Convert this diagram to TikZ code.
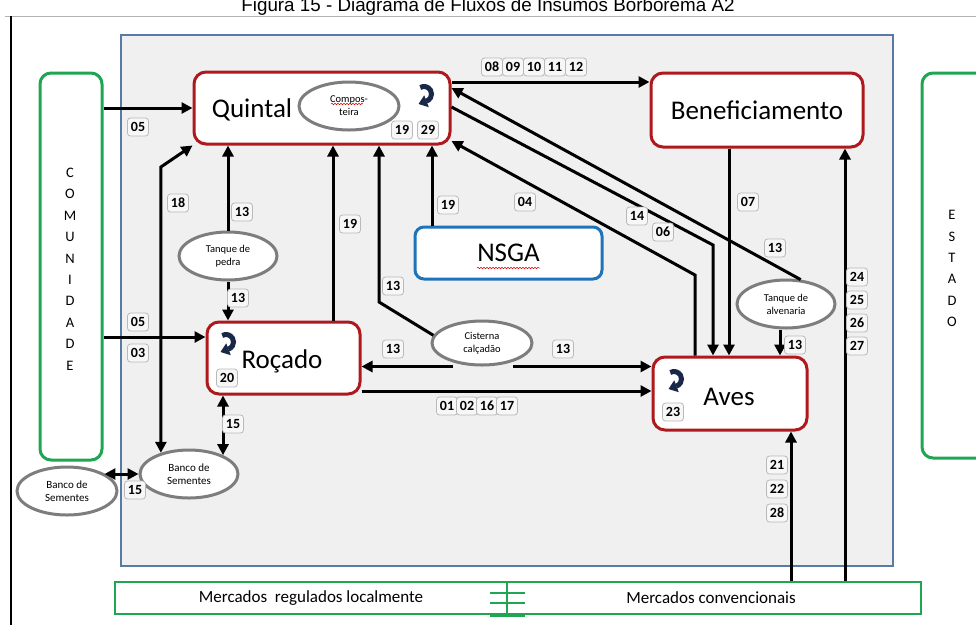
\documentclass[tikz,border=0pt]{standalone}
\usepackage{fontspec}
\setmainfont{Carlito}
\newfontfamily\titlefont{Liberation Sans}
\usetikzlibrary{arrows.meta,shapes.geometric,decorations.pathmorphing,calc}

\definecolor{boxred}{RGB}{175,25,30}
\definecolor{boxgreen}{RGB}{32,165,82}
\definecolor{frameblue}{RGB}{88,122,165}
\definecolor{framefill}{RGB}{240,240,240}
\definecolor{nsgablue}{RGB}{30,115,185}
\definecolor{ellgray}{RGB}{125,125,125}
\definecolor{iconnavy}{RGB}{25,40,72}
\definecolor{labgray}{RGB}{185,185,185}

\tikzset{
  redbox/.style={draw=boxred, line width=3pt, rounded corners=12pt, fill=white},
  greenbox/.style={draw=boxgreen, line width=3pt, rounded corners=11pt, fill=white},
  tank/.style={ellipse, draw=ellgray, line width=3pt, fill=white, inner sep=0pt,
    font=\fontsize{10.5}{13}\selectfont, align=center},
  big/.style={font=\fontsize{27}{30}\selectfont},
  flow/.style={line width=3pt, -{Triangle[length=11pt,width=11pt]}},
  flowboth/.style={line width=3pt, {Triangle[length=11pt,width=11pt]}-{Triangle[length=11pt,width=11pt]}},
  lab/.style={draw=labgray, fill=white!97!black, rounded corners=3pt, line width=0.8pt,
    inner sep=1pt, minimum width=21pt, minimum height=18pt,
    font=\fontsize{14}{14}\selectfont\bfseries},
  spell/.style={draw=red!85!black, line width=0.5pt, decorate,
    decoration={snake, amplitude=0.8pt, segment length=3pt}},
  letters/.style={align=center, font=\fontsize{14.5}{21.4}\selectfont}
}

% recycling mark: thick arc bending round to the right, arrowhead at the foot
\newcommand\recyclemark[1]{%
  \draw[iconnavy, line width=5pt] (#1) ++(-120:7.5) arc[start angle=-120, end angle=72, radius=7.5];
  \fill[iconnavy] ($(#1)+(4.8,13.2)$) -- ($(#1)+(-5.5,10)$) -- ($(#1)+(0.2,1.3)$) -- cycle;
}

\begin{document}
\begin{tikzpicture}[x=1pt,y=-1pt]
\useasboundingbox (0,0) rectangle (976,625);
\clip (0,0) rectangle (976,625);
\fill[white] (0,0) rectangle (976,625);

% caption and page rules
\node[anchor=base, font=\titlefont\fontsize{18.8}{20}\selectfont] (title) at (488,11.5)
  {Figura 15 - Diagrama de Fluxos de Insumos Borborema A2};
\draw[black!30, line width=1pt] (5,16) -- (976,16);
\draw[line width=2pt] (11,16) -- (11,625);

% system boundary
\node[draw=frameblue, line width=2.5pt, fill=framefill, minimum width=772pt,
  minimum height=531pt, inner sep=0pt] (sys) at (507,300.5) {};

% outside actors
\node[greenbox, minimum width=62pt, minimum height=387pt] (com) at (71,266.5) {};
\node[letters] (comt) at (70,269) {C\\O\\M\\U\\N\\I\\D\\A\\D\\E};
\node[greenbox, minimum width=74pt, minimum height=385pt] (est) at (959,265.5) {};
\node[letters] (estt) at (952,268.5) {E\\S\\T\\A\\D\\O};

% markets bar
\node[draw=boxgreen, line width=2.5pt, fill=white, minimum width=806pt,
  minimum height=32pt, inner sep=0pt] (mk) at (518,598) {};
\node[font=\fontsize{17}{18}\selectfont] (mkl) at (311,598) {Mercados\ \ regulados localmente};
\node[font=\fontsize{17}{18}\selectfont] (mkc) at (711,598) {Mercados convencionais};
\draw[boxgreen, line width=2.5pt] (507,582) -- (507,616)
  (490,593) -- (525,593) (490,603) -- (525,603) (490,616) -- (525,616);

% subsystems
\node[redbox, minimum width=256pt, minimum height=72pt] (Q) at (322,108) {};
\node[big] (Qt) at (252,110) {Quintal};
\node[redbox, big, minimum width=212pt, minimum height=74pt] (B) at (757,110) {Beneficiamento};
\node[draw=nsgablue, line width=3pt, rounded corners=9pt, fill=white, big,
  minimum width=187pt, minimum height=52pt] (N) at (508.5,253) {NSGA};
\node[redbox, minimum width=153pt, minimum height=72pt] (R) at (283.5,358) {};
\node[big] (Rt) at (282,361) {Roçado};
\node[redbox, minimum width=154pt, minimum height=73pt] (A) at (730,393.5) {};
\node[big] (At) at (729,397) {Aves};

% water tanks, compost and seed banks
\node[tank, minimum width=100pt, minimum height=48pt] (comp) at (349,106) {Compos-\\teira};
\node[tank, minimum width=98pt, minimum height=48pt] (tp) at (228,256) {Tanque de\\pedra};
\node[tank, minimum width=100pt, minimum height=44pt] (cis) at (482,343) {Cisterna\\calçadão};
\node[tank, minimum width=98pt, minimum height=48pt] (alv) at (786,304) {Tanque de\\alvenaria};
\node[tank, font=\fontsize{11}{13.5}\selectfont, minimum width=98pt, minimum height=48pt] (bI) at (189,474) {Banco de\\Sementes};
\node[tank, font=\fontsize{11}{13.5}\selectfont, minimum width=100pt, minimum height=48pt] (bO) at (67,491) {Banco de\\Sementes};

% spell-check marks
\draw[spell] (331,104) -- (363,104);
\draw[spell] (477,268) -- (540,268);

% internal recycling marks
\coordinate (qic) at (424,94);
\coordinate (ric) at (226,342);
\coordinate (aic) at (674,379);
\recyclemark{qic}
\recyclemark{ric}
\recyclemark{aic}

% flows
\draw[flow] (com.east |- Q.west) -- (Q.west);
\draw[flow] (com.east |- 0,337) -- (R.west |- 0,337);
\draw[flow] (Q.east |- 0,82) -- (B.west |- 0,82);
\draw[flow] (alv.59) -- (Q.east |- 0,88);
\draw[flow] (Q.east |- 0,107) -- (713,245) -- (A.north -| 713,0);
\draw[flow] (A.north -| 695,0) -- (695,275) -- (Q.east |- 0,141);
\draw[flow] (B.south -| 729,0) -- (A.north -| 729,0);
\draw[flow] (alv.south -| 780,0) -- (A.north -| 780,0);
\draw[flow] (mk.north -| 845,0) -- (B.south -| 845,0);
\draw[flow] (mk.north -| 791,0) -- (A.south -| 791,0);
\draw[flow] (N.north -| 432,0) -- (Q.south -| 432,0);
\draw[flow] (cis.171) -- (379,302) -- (Q.south -| 379,0);
\draw[flow] (R.north -| 333,0) -- (Q.south -| 333,0);
\draw[flow] (tp.north) -- (tp.north |- Q.south);
\draw[flow] (tp.south) -- (tp.south |- R.north);
\draw[flowboth] (bI.143.5) -- (bI.143.5 |- 0,167) -- (Q.south west);
\draw[flowboth] (R.south -| bI.29.4) -- (bI.29.4);
\draw[flowboth] (bO.25 |- bI.west) -- (bI.west);
\draw[flow] (cis.south -| 453,0) -- (R.east |- cis.south);
\draw[flow] (cis.south -| 513,0) -- (A.west |- cis.south);
\draw[flow] (R.east |- 0,391) -- (A.west |- 0,391);

% flow numbers
\node[lab] (n05a) at (138,127) {05};
\node[lab] (n05b) at (138,322) {05};
\node[lab] (n03) at (138,353) {03};
\node[lab] (n08) at (492,67) {08};
\node[lab] (n09) at (513,67) {09};
\node[lab] (n10) at (534,67) {10};
\node[lab] (n11) at (555,67) {11};
\node[lab] (n12) at (576,67) {12};
\node[lab] (n19q) at (402,130) {19};
\node[lab] (n29) at (428,130) {29};
\node[lab] (n18) at (178,203) {18};
\node[lab] (n13a) at (242,212) {13};
\node[lab] (n19r) at (350,224) {19};
\node[lab] (n13b) at (393,286) {13};
\node[lab] (n19n) at (448,205) {19};
\node[lab] (n04) at (525,202) {04};
\node[lab] (n14) at (637,216) {14};
\node[lab] (n06) at (663,232) {06};
\node[lab] (n07) at (748,202) {07};
\node[lab] (n13c) at (775,248) {13};
\node[lab] (n24) at (857,277) {24};
\node[lab] (n25) at (857,300) {25};
\node[lab] (n26) at (857,323) {26};
\node[lab] (n27) at (857,346) {27};
\node[lab] (n13d) at (238,298) {13};
\node[lab] (n13e) at (393,349) {13};
\node[lab] (n13f) at (563,349) {13};
\node[lab] (n01) at (447,406) {01};
\node[lab] (n02) at (467,406) {02};
\node[lab] (n16) at (487,406) {16};
\node[lab] (n17) at (507,406) {17};
\node[lab] (n20) at (227,378) {20};
\node[lab] (n23) at (673,412) {23};
\node[lab] (n13g) at (795,345) {13};
\node[lab] (n15a) at (233,424) {15};
\node[lab] (n15b) at (135,490) {15};
\node[lab] (n21) at (777,465) {21};
\node[lab] (n22) at (777,489) {22};
\node[lab] (n28) at (777,513) {28};
\end{tikzpicture}
\end{document}
